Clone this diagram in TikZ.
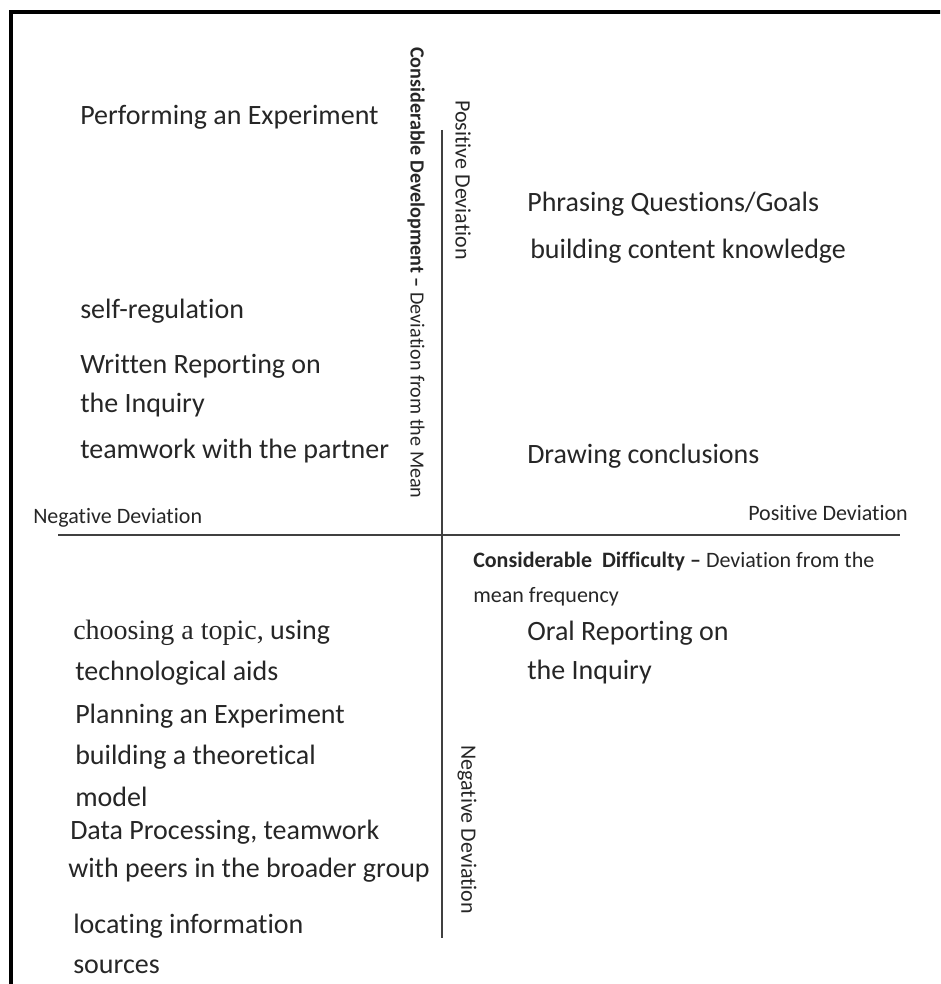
\documentclass[tikz,border=0pt]{standalone}
\usepackage{fontspec}
\setmainfont{Carlito}[Ligatures=NoCommon]
\newfontfamily\serifpart{Liberation Serif}
\begin{document}
\begin{tikzpicture}[x=0.75pt,y=-0.75pt,
  big/.style={anchor=west,inner sep=0pt,font=\fontsize{21}{25}\selectfont,text=black!85},
  small/.style={anchor=west,inner sep=0pt,font=\fontsize{16.5}{20}\selectfont,text=black!85},
  axis/.style={draw=black!75,line width=1.4pt}]
\useasboundingbox (0,0) rectangle (940,984);
\begin{scope}
\clip (0,0) rectangle (940,984);
\draw[line width=2.6pt] (11,12) rectangle (980,1020);
\end{scope}
% axes
\coordinate (vtop) at (442,130);
\coordinate (vbot) at (442,938);
\coordinate (hl) at (58,535);
\coordinate (hr) at (900,535);
\draw[axis] (vtop) -- (vbot);
\draw[axis] (hl) -- (hr);
% axis labels
\node[small,rotate=-90,font=\fontsize{15.1}{18}\selectfont] (cdev) at (416,47) {\textbf{Considerable Development –} Deviation from the Mean};
\node[small,rotate=-90] (posv) at (463,100) {Positive Deviation};
\node[small,rotate=-90] (negv) at (467,745) {Negative Deviation};
\node[small] (negh) at (33,518) {Negative Deviation};
\node[small] (posh) at (748,513) {Positive Deviation};
\node[small] (cdif1) at (473,562) {\textbf{Considerable\ \ Difficulty –} Deviation from the};
\node[small] (cdif2) at (473,597) {mean frequency};
% quadrant texts
\node[big] (perf) at (80,117) {Performing an Experiment};
\node[big] (phr) at (527,204) {Phrasing Questions/Goals};
\node[big] (bck) at (530,251) {building content knowledge};
\node[big] (selfr) at (80,311) {self-regulation};
\node[big] (wr1) at (80,366) {Written Reporting on};
\node[big] (wr2) at (80,405) {the Inquiry};
\node[big] (team) at (80,451) {teamwork with the partner};
\node[big] (draw) at (527,456) {Drawing conclusions};
\node[big] (or1) at (527,633) {Oral Reporting on};
\node[big] (or2) at (527,672) {the Inquiry};
\node[big] (ch1) at (73,633) {{\serifpart choosing a topic,} using};
\node[big] (ch2) at (75,673) {technological aids};
\node[big] (plan) at (75,716) {Planning an Experiment};
\node[big] (btm1) at (75,757) {building a theoretical};
\node[big] (btm2) at (75,797) {model};
\node[big] (dp1) at (70,832) {Data Processing, teamwork};
\node[big] (dp2) at (68,870) {with peers in the broader group};
\node[big] (loc1) at (73,926) {locating information};
\node[big] (loc2) at (73,967) {sources};
\end{tikzpicture}
\end{document}
